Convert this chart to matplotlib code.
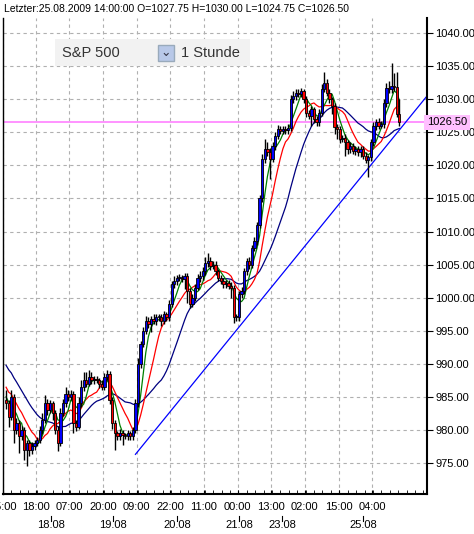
import matplotlib
matplotlib.use("Agg")
import matplotlib.pyplot as plt
import numpy as np
import pandas as pd

prehist = [996, 995, 995.5, 994, 993, 993.5, 992, 991, 991.5, 990, 989, 989.5, 988, 987.5, 988, 986.5, 986, 985, 985.5, 984.5]
closes = [984, 982, 985, 980,
          981, 979, 980, 977, 978, 977, 977.5,
          978, 978.5, 980, 981.5,
          984, 983, 984, 982.5,
          980, 978, 982.5,
          984, 985.5, 985, 985.5, 981,
          980.5, 984, 986.5,
          987.5, 987, 988, 987.5, 987.6, 987.5,
          987, 986.5, 988,
          988.5, 984.5, 981,
          979.5, 979, 979.5, 979.2, 979,
          979.5, 979, 980,
          984, 990, 993,
          995, 996.5, 996, 996.8, 996.5, 997,
          997, 996.5, 997.5, 997,
          999, 1002, 1002.5, 1003,
          1003, 1002.8, 1003.2, 1001,
          999, 1000, 1001.5, 1003,
          1003.2, 1004, 1005.2, 1005.5, 1004.8, 1005,
          1004, 1003, 1002.5, 1002, 1002.2,
          1001.8, 1001.5, 997, 997,
          1000.5, 1001, 1004, 1005.5, 1005,
          1007.5, 1008.5, 1011, 1015,
          1021, 1022.5, 1022, 1021,
          1023, 1024.5, 1025.5, 1025.2,
          1025.5, 1025.3, 1025.6, 1030,
          1030.5, 1031, 1030.8, 1031.2,
          1030, 1028, 1027.5, 1028.5,
          1027, 1026.5, 1028,
          1031.5, 1032.5, 1031, 1030,
          1029, 1025.8, 1025.5, 1024,
          1024.2, 1023.5, 1022.5, 1023, 1022.2,
          1022.5, 1022, 1022.5, 1021.5,
          1020.8, 1021.2, 1023.5,
          1026, 1026.5, 1026,
          1026.2, 1029.5, 1031.7,
          1031.5, 1032, 1031.8,
          1027.75, 1026.5]
wick_up = [1.5, 0.5, 1.0, 0.5, 0.8, 0.5, 0.6, 0.5, 0.4, 0.5, 0.6, 0.5, 0.4, 0.6, 1.0,
           1.2, 0.6, 0.5, 0.4, 0.5, 0.6, 0.8, 0.7, 1.0, 0.5, 0.6, 0.4, 0.5, 1.0, 1.0,
           1.2, 1.3, 1.0, 0.8, 0.5, 0.6, 0.4, 0.5, 0.6, 0.5, 0.4, 0.5, 0.5, 0.4, 0.6,
           0.5, 0.4, 0.5, 0.4, 0.5, 0.6, 0.8, 0.5, 0.6, 0.8, 0.6, 0.5, 0.7, 0.6, 0.5,
           0.6, 0.5, 0.4, 0.6, 0.5, 0.7, 0.5, 0.6, 0.4, 0.5, 0.5, 0.5, 0.6, 0.5, 0.6,
           0.8, 0.6, 0.9, 1.2, 0.6, 0.5, 0.5, 0.4, 0.5, 0.4, 0.5, 0.4, 0.5, 0.4, 0.5,
           0.5, 0.6, 0.5, 0.5, 0.6, 0.5, 0.6, 0.5, 0.6, 0.8, 1.5, 1.0, 0.6, 0.5, 0.5,
           0.6, 0.5, 0.4, 0.5, 0.6, 0.6, 0.7, 0.5, 0.6, 0.5, 0.4, 0.5, 0.4, 0.5, 0.4,
           0.5, 0.6, 0.8, 1.6, 0.6, 0.5, 0.4, 0.5, 0.4, 0.5, 0.4, 0.5, 0.4, 0.5, 0.4,
           0.5, 0.4, 0.5, 0.4, 0.5, 0.4, 0.5, 0.6, 0.5, 0.6, 0.5, 0.5, 0.8, 1.0, 3.5,
           2.0, 2.3, 2.25]
wick_dn = [0.8, 1.5, 0.5, 2.0, 0.6, 2.5, 0.5, 1.5, 2.5, 1.0, 0.6, 0.5, 0.4, 0.5, 0.6,
           0.5, 0.8, 0.5, 1.0, 0.6, 1.2, 0.5, 0.4, 0.5, 0.6, 0.5, 1.5, 0.6, 0.4, 0.5,
           0.6, 0.5, 0.4, 0.6, 0.5, 0.4, 0.6, 0.5, 0.4, 0.5, 0.6, 0.8, 2.5, 0.6, 0.5,
           1.5, 0.4, 0.5, 0.6, 0.5, 0.4, 0.5, 0.6, 0.5, 0.5, 0.6, 1.2, 0.5, 0.6, 0.5,
           0.8, 0.5, 0.6, 0.5, 0.4, 0.5, 0.6, 0.5, 0.4, 1.5, 1.8, 0.5, 0.4, 0.5, 0.4,
           0.6, 0.5, 0.5, 0.5, 0.6, 0.5, 0.6, 0.5, 0.4, 0.5, 0.6, 0.5, 1.5, 0.8, 0.5,
           0.6, 0.5, 0.4, 0.5, 0.6, 0.5, 0.4, 0.5, 0.4, 0.5, 0.6, 0.5, 3.0, 0.5, 0.6,
           0.5, 0.4, 0.5, 0.6, 0.5, 0.4, 0.5, 0.6, 0.5, 0.4, 0.5, 0.6, 0.5, 1.5, 0.6,
           0.5, 0.6, 0.5, 0.4, 0.5, 0.6, 1.2, 1.0, 1.5, 0.6, 0.5, 2.0, 0.8, 0.6, 0.5,
           0.6, 0.5, 0.8, 0.6, 0.5, 2.5, 0.6, 0.5, 0.6, 0.5, 0.4, 0.5, 0.6, 0.5, 0.5,
           0.6, 0.5, 0.5]

trend_x = [50, 162.7]
trend_y = [976.3, 1030.5]
last_price = 1026.5

time_ticks = [-1.2, 11.5, 24.5, 37.5, 50.5, 63.5, 76.5, 89.5, 102.5, 115.5, 128.5, 141.5]
time_labels = ["05:00", "18:00", "07:00", "20:00", "09:00", "22:00", "11:00", "00:00", "13:00", "02:00", "15:00", "04:00"]
date_ticks = [17.5, 41.3, 66, 90.2, 106.8, 138]
date_labels = ["18.08", "19.08", "20.08", "21.08", "23.08", "25.08"]
yticks = [975, 980, 985, 990, 995, 1000, 1005, 1010, 1015, 1020, 1025, 1030, 1035, 1040]

W, H = 474, 534
fig = plt.figure(figsize=(W/100, H/100), dpi=100)
ax = fig.add_axes([3/W, 1-494/H, 424/W, 476/H])

c = np.array(closes)
allc = pd.Series(prehist + closes)
n = len(c)
o = np.concatenate([[prehist[-1]], c[:-1]])
o[-1] = 1027.75
x = np.arange(n)
hi = np.maximum(o, c) + np.array(wick_up)
lo = np.minimum(o, c) - np.array(wick_dn)

off = len(prehist)
for per, col in [(21, "#000080"), (10, "red"), (5, "green")]:
    ma = allc.rolling(per, min_periods=1).mean().values[off:]
    ax.plot(x, ma, color=col, lw=0.9, zorder=2)

ax.vlines(x, lo, hi, color="black", lw=1, zorder=3)
for i in range(n):
    col = "#0000ff" if c[i] >= o[i] else "#ff0000"
    b = min(o[i], c[i]); h = max(abs(c[i]-o[i]), 0.15)
    ax.add_patch(plt.Rectangle((x[i]-0.45, b), 0.9, h, facecolor=col, edgecolor="black", lw=0.6, zorder=4))

ax.plot(trend_x, trend_y, color="#0000ff", lw=0.9, zorder=2)
ax.axhline(last_price, color="#ff80ff", lw=1.2, zorder=1)

ax.set_xlim(-1.2, 162.7)
ax.set_ylim(970.3, 1042.3)
ax.yaxis.tick_right()
ax.set_yticks(yticks)
ax.set_yticklabels([f"{v:.2f}" for v in yticks], fontsize=8, family="Liberation Sans")
ax.set_xticks(time_ticks)
ax.set_xticklabels(time_labels, fontsize=8, family="Liberation Sans")
ax.set_xticks(np.arange(-1.2, 162.7, 3.25), minor=True)
ax.tick_params(axis="x", which="both", direction="in", length=3, pad=6)
ax.tick_params(axis="y", length=4, pad=2)
ax.grid(True, color="#b0b0b0", ls=(0, (3, 3)), lw=0.8)
for s in ax.spines.values():
    s.set_linewidth(1.5)
ax.spines["top"].set_visible(False)
ax.spines["left"].set_linewidth(1)

dtrans = ax.get_xaxis_transform()
for t, l in zip(date_ticks, date_labels):
    ax.annotate(l, (t, 0), xycoords=("data", "axes fraction"), xytext=(0, -22.5),
                textcoords="offset points", ha="center", va="center", fontsize=8, family="Liberation Sans")
    ax.plot([t, t], [-22/476, -27/476], transform=dtrans, color="black", lw=0.8, clip_on=False)

ax.text(1.0, last_price, "1026.50", transform=ax.get_yaxis_transform(), ha="left", va="center",
        fontsize=8, family="Liberation Sans",
        bbox=dict(boxstyle="square,pad=0.25", fc="#ffc0ff", ec="none"), zorder=10, clip_on=False)

fig.text(4/W, 1-9/H, "Letzter:25.08.2009 14:00:00 O=1027.75 H=1030.00 L=1024.75 C=1026.50",
         fontsize=7.5, family="Liberation Sans", va="center")
fig.patches.append(plt.Rectangle((55/W, 1-66/H), 195/W, 27/H, transform=fig.transFigure, fc="#f2f2f2", ec="none"))
fig.text(62/W, 1-53/H, "S&P 500", fontsize=10.5, family="Liberation Sans", va="center", color="#333333")
fig.patches.append(plt.Rectangle((158/W, 1-61/H), 16/W, 16/H, transform=fig.transFigure, fc="#b8c8e8", ec="#9ab"))
fig.text(166/W, 1-53/H, "⌄", fontsize=9, ha="center", va="center", color="#334")
fig.text(181/W, 1-53/H, "1 Stunde", fontsize=10.5, family="Liberation Sans", va="center", color="#333333")

fig.savefig("out.png", dpi=100)
